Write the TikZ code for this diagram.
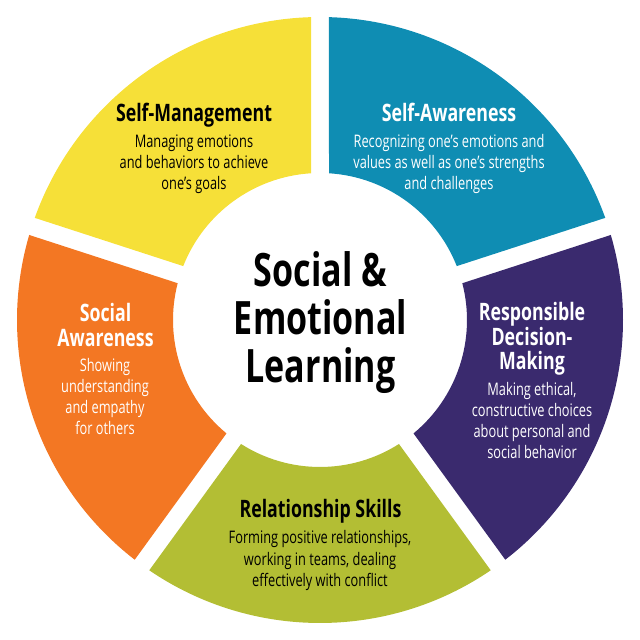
\documentclass[tikz,border=0pt]{standalone}
\usepackage{fontspec}
\setmainfont{Open Sans}
\newfontfamily\tfont[FakeStretch=0.74]{Open Sans}
\definecolor{cteal}{HTML}{0F8DB3}
\definecolor{cpurple}{HTML}{3A2A6E}
\definecolor{colive}{HTML}{B3BE34}
\definecolor{corange}{HTML}{F37723}
\definecolor{cyellow}{HTML}{F6E038}
\tikzset{
  heading/.style={anchor=base,inner sep=0pt,align=center,font=\tfont\bfseries\fontsize{24}{24.5}\selectfont},
  bodytext/.style={anchor=base,inner sep=0pt,align=center,font=\tfont\fontsize{17.3}{21.3}\selectfont},
  centertext/.style={anchor=center,inner sep=0pt,align=center,font=\tfont\bfseries\fontsize{46}{48}\selectfont}
}
\begin{document}
\begin{tikzpicture}[x=1pt,y=1pt]
\useasboundingbox (0,0) rectangle (640,640);
\coordinate (c) at (320,320);
\pgfmathsetmacro{\Ro}{303}
\pgfmathsetmacro{\Ri}{147}
\pgfmathsetmacro{\dO}{asin(9/\Ro)}
\pgfmathsetmacro{\dI}{asin(9/\Ri)}
\foreach \a/\b/\col in {18/90/cteal,-54/18/cpurple,-126/-54/colive,162/234/corange,90/162/cyellow}{
  \pgfmathsetmacro{\aO}{\a+\dO}
  \pgfmathsetmacro{\bO}{\b-\dO}
  \pgfmathsetmacro{\aI}{\a+\dI}
  \pgfmathsetmacro{\bI}{\b-\dI}
  \fill[\col] ([shift={(\aO:\Ro pt)}]c) arc[start angle=\aO,end angle=\bO,radius=\Ro pt]
    -- ([shift={(\bI:\Ri pt)}]c) arc[start angle=\bI,end angle=\aI,radius=\Ri pt] -- cycle;
}
\node[centertext] (centre) at (320.5,317) {Social \&\\Emotional\\Learning};
\node[heading] (smh) at (194,518) {Self-Management};
\node[bodytext] (smb) at (194,450) {Managing emotions\\and behaviors to achieve\\one’s goals};
\node[heading,white] (sah) at (449,518) {Self-Awareness};
\node[bodytext,white] (sab) at (449,450) {Recognizing one’s emotions and\\values as well as one’s strengths\\and challenges};
\node[heading,white] (rdh) at (532,270) {Responsible\\Decision-\\Making};
\node[bodytext,white] (rdb) at (532,181) {Making ethical,\\constructive choices\\about personal and\\social behavior};
\node[heading] (rsh) at (320.5,122) {Relationship Skills};
\node[bodytext] (rsb) at (320,53.5) {Forming positive relationships,\\working in teams, dealing\\effectively with conflict};
\node[heading,white] (sawh) at (105.5,293.5) {Social\\Awareness};
\node[bodytext,white] (sawb) at (105,205) {Showing\\understanding\\and empathy\\for others};
\end{tikzpicture}
\end{document}
